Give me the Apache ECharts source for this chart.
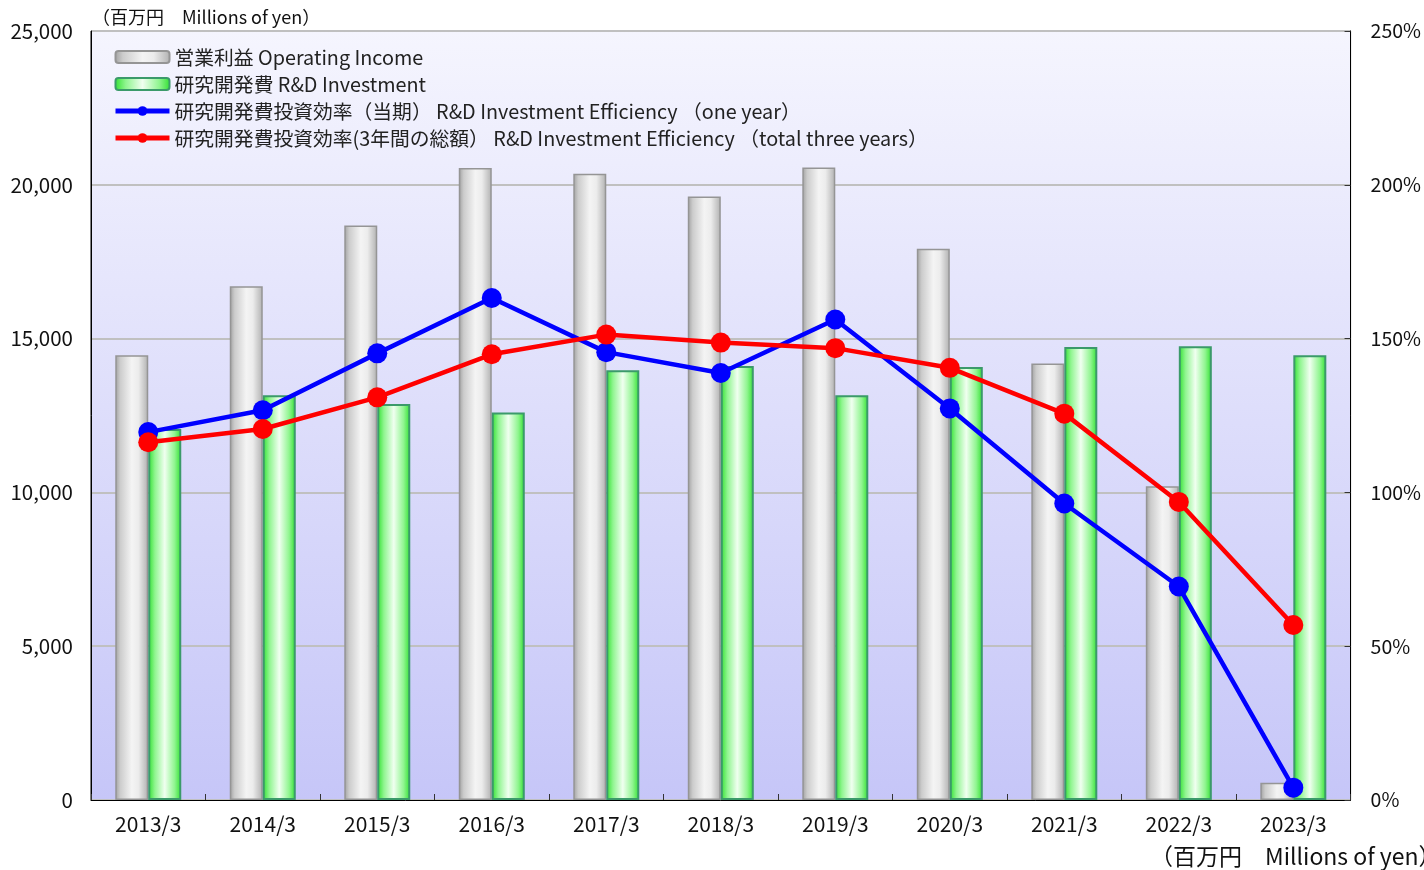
<!DOCTYPE html>
<html>
<head>
<meta charset="UTF-8">
<title>研究開発費投資効率</title>
<script src="https://cdn.jsdelivr.net/npm/echarts@6/dist/echarts.min.js"></script>
<style>
  html, body { margin: 0; padding: 0; background: #fff; }
  #main { width: 1424px; height: 870px; }
</style>
</head>
<body>
<div id="main"></div>
<script type="text/javascript">
// 決算期
var years = ['2013/3', '2014/3', '2015/3', '2016/3', '2017/3', '2018/3', '2019/3', '2020/3', '2021/3', '2022/3', '2023/3'];
// 営業利益（百万円）
var opIncome = [14460, 16700, 18680, 20550, 20360, 19620, 20560, 17920, 14190, 10200, 560];
// 研究開発費（百万円）
var rdInvest = [12060, 13160, 12870, 12600, 13970, 14110, 13160, 14080, 14730, 14750, 14460];
// 研究開発費投資効率（当期）%
var effOneYear = [119.6, 126.7, 145.2, 163.2, 145.6, 138.8, 156.2, 127.3, 96.4, 69.4, 4.0];
// 研究開発費投資効率（3年間の総額）%
var effThreeYears = [116.3, 120.6, 130.9, 144.9, 151.3, 148.7, 146.9, 140.5, 125.6, 96.9, 56.9];

var leftTicks = [0, 25000, 5000];   // min, max, interval
var rightTicks = [0, 250, 50];

var FONT = '"Noto Sans CJK JP", "Noto Sans", sans-serif';

var myChart = echarts.init(document.getElementById('main'));

var grayFill = {
  type: 'linear', x: 0, y: 0, x2: 1, y2: 0,
  colorStops: [
    {offset: 0, color: '#a0a0a0'},
    {offset: 0.15, color: '#cccccc'},
    {offset: 0.5, color: '#f4f4f4'},
    {offset: 0.7, color: '#ececec'},
    {offset: 1, color: '#b0b0b0'}
  ]
};
var greenFill = {
  type: 'linear', x: 0, y: 0, x2: 1, y2: 0,
  colorStops: [
    {offset: 0, color: '#2fe02f'},
    {offset: 0.2, color: '#8ff58f'},
    {offset: 0.5, color: '#f0fff0'},
    {offset: 0.8, color: '#8ff58f'},
    {offset: 1, color: '#2fe02f'}
  ]
};

var option = {
  animation: false,
  textStyle: { fontFamily: FONT },
  grid: {
    left: 91, right: 72, top: 31, bottom: 70,
    show: true,
    borderColor: '#000',
    borderWidth: 1,
    backgroundColor: {
      type: 'linear', x: 0, y: 0, x2: 0, y2: 1,
      colorStops: [
        {offset: 0, color: '#f5f5fe'},
        {offset: 1, color: '#c6c6f8'}
      ]
    }
  },
  legend: {
    orient: 'vertical',
    left: 108, top: 42,
    itemWidth: 54, itemHeight: 12,
    itemGap: 7,
    lineStyle: { width: 5 },
    textStyle: { fontSize: 19.8, color: '#222', lineHeight: 20, fontFamily: FONT },
    data: [
      '営業利益 Operating Income',
      '研究開発費 R&D Investment',
      '研究開発費投資効率（当期） R&D Investment Efficiency （one year）',
      '研究開発費投資効率(3年間の総額） R&D Investment Efficiency （total three years）'
    ]
  },
  xAxis: {
    type: 'category',
    data: years,
    axisLine: { lineStyle: { color: '#000', width: 1 } },
    axisTick: { show: true, inside: true, length: 6, lineStyle: { color: '#333' } },
    axisLabel: { fontSize: 21, color: '#111', margin: 14 }
  },
  yAxis: [
    {
      type: 'value',
      min: leftTicks[0], max: leftTicks[1], interval: leftTicks[2],
      axisLine: { show: true, lineStyle: { color: '#000' } },
      axisTick: { show: false },
      splitLine: { lineStyle: { color: '#c0c0c0', width: 2 } },
      axisLabel: {
        fontSize: 20.5, color: '#111', margin: 18,
        formatter: function (v) { return v.toLocaleString('en-US'); }
      }
    },
    {
      type: 'value',
      min: rightTicks[0], max: rightTicks[1], interval: rightTicks[2],
      axisLine: { show: true, lineStyle: { color: '#000' } },
      axisTick: { show: true, inside: true, length: 6, lineStyle: { color: '#333' } },
      splitLine: { show: false },
      axisLabel: { fontSize: 19.5, color: '#111', margin: 20, formatter: '{value}%' }
    }
  ],
  series: [
    {
      name: '営業利益 Operating Income',
      type: 'bar',
      data: opIncome,
      barWidth: 33,
      barGap: '0%',
      itemStyle: { color: grayFill, borderColor: '#959595', borderWidth: 1.5 }
    },
    {
      name: '研究開発費 R&D Investment',
      type: 'bar',
      data: rdInvest,
      barWidth: 33,
      barGap: '0%',
      itemStyle: { color: greenFill, borderColor: '#3b9a6a', borderWidth: 2 }
    },
    {
      name: '研究開発費投資効率（当期） R&D Investment Efficiency （one year）',
      type: 'line',
      yAxisIndex: 1,
      data: effOneYear,
      symbol: 'circle',
      symbolSize: 20,
      lineStyle: { color: '#0000ff', width: 4.5 },
      itemStyle: { color: '#0000ff' }
    },
    {
      name: '研究開発費投資効率(3年間の総額） R&D Investment Efficiency （total three years）',
      type: 'line',
      yAxisIndex: 1,
      data: effThreeYears,
      symbol: 'circle',
      symbolSize: 20,
      lineStyle: { color: '#ff0000', width: 4.5 },
      itemStyle: { color: '#ff0000' }
    }
  ],
  graphic: [
    {
      type: 'text', left: 92, top: 8,
      style: { text: '（百万円　Millions of yen）', fontSize: 18, fill: '#111', fontFamily: FONT }
    },
    {
      type: 'text', left: 1150, top: 845,
      style: { text: '（百万円　Millions of yen）', fontSize: 23, fill: '#111', fontFamily: FONT }
    }
  ]
};

myChart.setOption(option);
</script>
</body>
</html>
